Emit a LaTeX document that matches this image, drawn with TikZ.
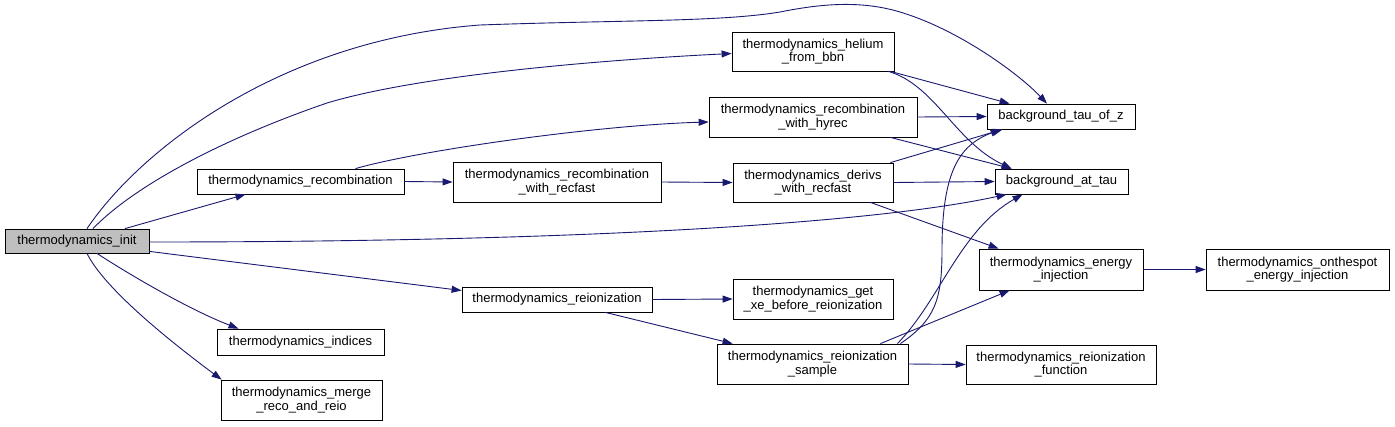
\documentclass[tikz,border=0pt]{standalone}
\usepackage{fontspec}
\setmainfont{Liberation Sans}
\usepackage{tikz}
\usetikzlibrary{arrows.meta,calc}
\definecolor{callblue}{RGB}{25,25,112}
\definecolor{rootgray}{RGB}{191,191,191}

\begin{document}
\begin{tikzpicture}[x=1pt,y=-1pt,
    every node/.style={font=\fontsize{13}{13.5}\selectfont,align=center},
    fn/.style={draw=black,fill=white,line width=0.8pt,inner sep=0pt},
    root/.style={fn,fill=rootgray},
    call/.style={draw=callblue,line width=0.9pt,-{Triangle[length=10pt,width=7pt]}}]
  \useasboundingbox[fill=white] (0,0) rectangle (1395,426);
  % functions
  \node[root,minimum width=144pt,minimum height=24pt] (init) at (77,241) {thermodynamics\_init};
  \node[fn,minimum width=207pt,minimum height=25pt] (recomb) at (300.5,181.5) {thermodynamics\_recombination};
  \node[fn,minimum width=208pt,minimum height=40pt] (recfast) at (557,182) {thermodynamics\_recombination\\\_with\_recfast};
  \node[fn,minimum width=190pt,minimum height=25pt] (reion) at (557,299.5) {thermodynamics\_reionization};
  \node[fn,minimum width=167pt,minimum height=26pt] (indices) at (300.5,342) {thermodynamics\_indices};
  \node[fn,minimum width=161pt,minimum height=40pt] (merge) at (301.5,400) {thermodynamics\_merge\\\_reco\_and\_reio};
  \node[fn,minimum width=162pt,minimum height=39pt] (helium) at (813,51.5) {thermodynamics\_helium\\\_from\_bbn};
  \node[fn,minimum width=208pt,minimum height=40pt] (hyrec) at (813,117) {thermodynamics\_recombination\\\_with\_hyrec};
  \node[fn,minimum width=160pt,minimum height=39pt] (derivs) at (813,182.5) {thermodynamics\_derivs\\\_with\_recfast};
  \node[fn,minimum width=160pt,minimum height=40pt] (getxe) at (813,299) {thermodynamics\_get\\\_xe\_before\_reionization};
  \node[fn,minimum width=191pt,minimum height=40pt] (sample) at (812.5,364) {thermodynamics\_reionization\\\_sample};
  \node[fn,minimum width=148pt,minimum height=25pt] (tauz) at (1061,116.5) {background\_tau\_of\_z};
  \node[fn,minimum width=133pt,minimum height=25pt] (attau) at (1061.5,181.5) {background\_at\_tau};
  \node[fn,minimum width=164pt,minimum height=41pt] (einj) at (1061,269.5) {thermodynamics\_energy\\\_injection};
  \node[fn,minimum width=190pt,minimum height=39pt] (rfunc) at (1061,364.5) {thermodynamics\_reionization\\\_function};
  \node[fn,minimum width=183pt,minimum height=41pt] (spot) at (1297.5,269.5) {thermodynamics\_onthespot\\\_energy\_injection};

  % calls from thermodynamics_init
  \draw[call] ($(init.north)+(48,0)$) -- ($(recomb.south)+(-55,0)$);
  \draw[call] ($(init.north)+(16,0)$) .. controls (135,185) and (225,138) .. (327,103)
    .. controls (420,75) and (600,60) .. ($(helium.west)+(0,2)$);
  \draw[call] ($(init.north)+(10,0)$) .. controls (140,150) and (280,40) .. (480,25)
    .. controls (620,20) and (720,22) .. (780,12)
    .. controls (820,4) and (860,0) .. (900,12)
    .. controls (960,30) and (1020,75) .. ($(tauz.north)+(-14,0)$);
  \draw[call] ($(init.east)+(0,1)$) .. controls (600,242) and (880,222) .. ($(attau.south west)+(12,0)$);
  \draw[call] ($(init.south east)+(0,-2)$) -- ($(reion.west)+(0,-9)$);
  \draw[call] ($(init.south)+(20,0)$) .. controls (130,275) and (190,310) .. ($(indices.north)+(-62,0)$);
  \draw[call] ($(init.south)+(10,0)$) .. controls (105,290) and (175,345) .. ($(merge.north west)+(1,0)$);

  % recombination branch
  \draw[call] (recomb.east) -- (recfast.west);
  \draw[call] ($(recomb.north)+(55,0)$) .. controls (420,150) and (600,125) .. ($(hyrec.west)+(0,5)$);
  \draw[call] (recfast.east) -- (derivs.west);
  \draw[call] ($(helium.south east)+(-4,0)$) -- ($(tauz.north west)+(23,0)$);
  \draw[call] ($(helium.south east)+(-6,0)$) .. controls (935,85) and (955,142) .. ($(attau.north west)+(17,0)$);
  \draw[call] (hyrec.east) -- (tauz.west);
  \draw[call] ($(hyrec.south east)+(-27,0)$) -- ($(attau.north west)+(17,0)$);
  \draw[call] ($(derivs.north east)+(-3,0)$) -- ($(tauz.south west)+(16,0)$);
  \draw[call] (derivs.east) -- (attau.west);
  \draw[call] ($(derivs.south east)+(-23,0)$) -- ($(einj.north west)+(20,0)$);
  \draw[call] (einj.east) -- (spot.west);

  % reionization branch
  \draw[call] (reion.east) -- (getxe.west);
  \draw[call] ($(reion.south east)+(-47,0)$) -- ($(sample.north west)+(16,0)$);
  \draw[call] ($(sample.north east)+(-28,0)$) -- ($(einj.south west)+(31,0)$);
  \draw[call] ($(sample.north east)+(-8,0)$) .. controls (935,320) and (942,300) .. (942,250)
    .. controls (942,170) and (960,145) .. ($(tauz.south west)+(14,0)$);
  \draw[call] ($(sample.north east)+(-11,0)$) .. controls (940,300) and (960,230) .. ($(attau.south west)+(28,0)$);
  \draw[call] (sample.east) -- (rfunc.west);
\end{tikzpicture}
\end{document}
